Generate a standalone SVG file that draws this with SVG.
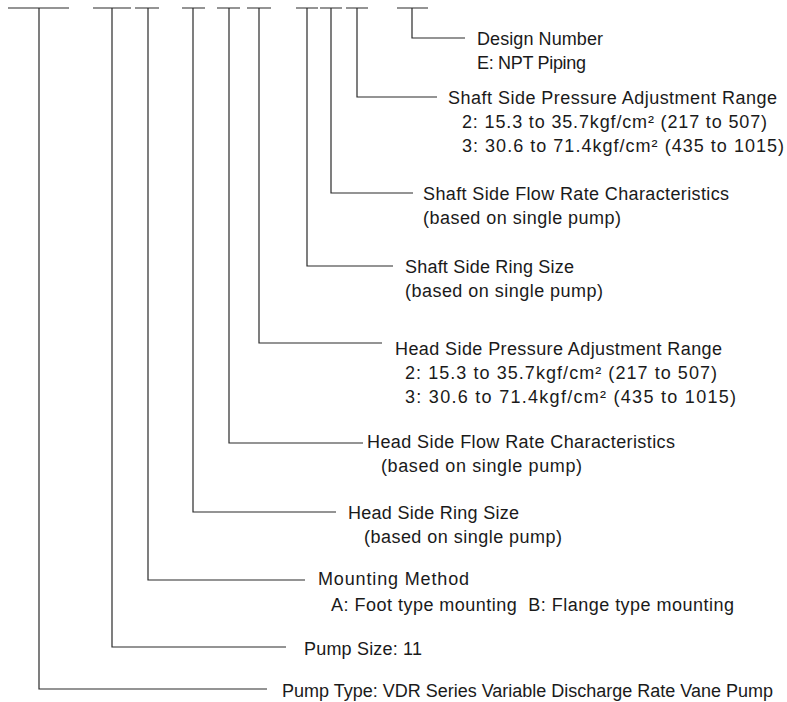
<svg xmlns="http://www.w3.org/2000/svg" width="787" height="702" viewBox="0 0 787 702">
<style>
.c{fill:none;stroke:#2a2a2a;stroke-width:1.2}
text{font-family:"Liberation Sans",Arial,sans-serif;font-size:18px;fill:#1a1a1a}
</style>
<rect width="787" height="702" fill="#fff"/>
<g id="connectors">
<path class="c" d="M8 8H69M39 8V689H267"/>
<path class="c" d="M93 8H131M112 8V647H286"/>
<path class="c" d="M135 8H159M148 8V580H305"/>
<path class="c" d="M182 8H205M193 8V512H336"/>
<path class="c" d="M217 8H240M229 8V443H363"/>
<path class="c" d="M247 8H271M259 8V343H382"/>
<path class="c" d="M296 8H318M307 8V266H393"/>
<path class="c" d="M320 8H342M331 8V193H413"/>
<path class="c" d="M346 8H368M357 8V97H437"/>
<path class="c" d="M397 8H428M412 8V38H465"/>
</g>
<g id="design-number">
<text x="477" y="45" textLength="126">Design Number</text>
<text x="477" y="69" textLength="109">E: NPT Piping</text>
</g>
<g id="shaft-pressure">
<text x="448" y="104" textLength="329">Shaft Side Pressure Adjustment Range</text>
<text x="462" y="128" textLength="305">2: 15.3 to 35.7kgf/cm² (217 to 507)</text>
<text x="462" y="152" textLength="322">3: 30.6 to 71.4kgf/cm² (435 to 1015)</text>
</g>
<g id="shaft-flow">
<text x="423" y="200" textLength="306">Shaft Side Flow Rate Characteristics</text>
<text x="423" y="224" textLength="198">(based on single pump)</text>
</g>
<g id="shaft-ring">
<text x="405" y="273" textLength="169">Shaft Side Ring Size</text>
<text x="405" y="297" textLength="198">(based on single pump)</text>
</g>
<g id="head-pressure">
<text x="395" y="355" textLength="327">Head Side Pressure Adjustment Range</text>
<text x="405" y="379" textLength="312">2: 15.3 to 35.7kgf/cm² (217 to 507)</text>
<text x="405" y="403" textLength="331">3: 30.6 to 71.4kgf/cm² (435 to 1015)</text>
</g>
<g id="head-flow">
<text x="367" y="448" textLength="308">Head Side Flow Rate Characteristics</text>
<text x="381" y="472" textLength="201">(based on single pump)</text>
</g>
<g id="head-ring">
<text x="348" y="519" textLength="171">Head Side Ring Size</text>
<text x="364" y="543" textLength="198">(based on single pump)</text>
</g>
<g id="mounting">
<text x="318" y="585" textLength="151">Mounting Method</text>
<text x="331" y="611" textLength="403" xml:space="preserve">A: Foot type mounting  B: Flange type mounting</text>
</g>
<g id="pump-size">
<text x="304" y="655" textLength="118">Pump Size: 11</text>
</g>
<g id="pump-type">
<text x="282" y="697" textLength="491">Pump Type: VDR Series Variable Discharge Rate Vane Pump</text>
</g>
</svg>
